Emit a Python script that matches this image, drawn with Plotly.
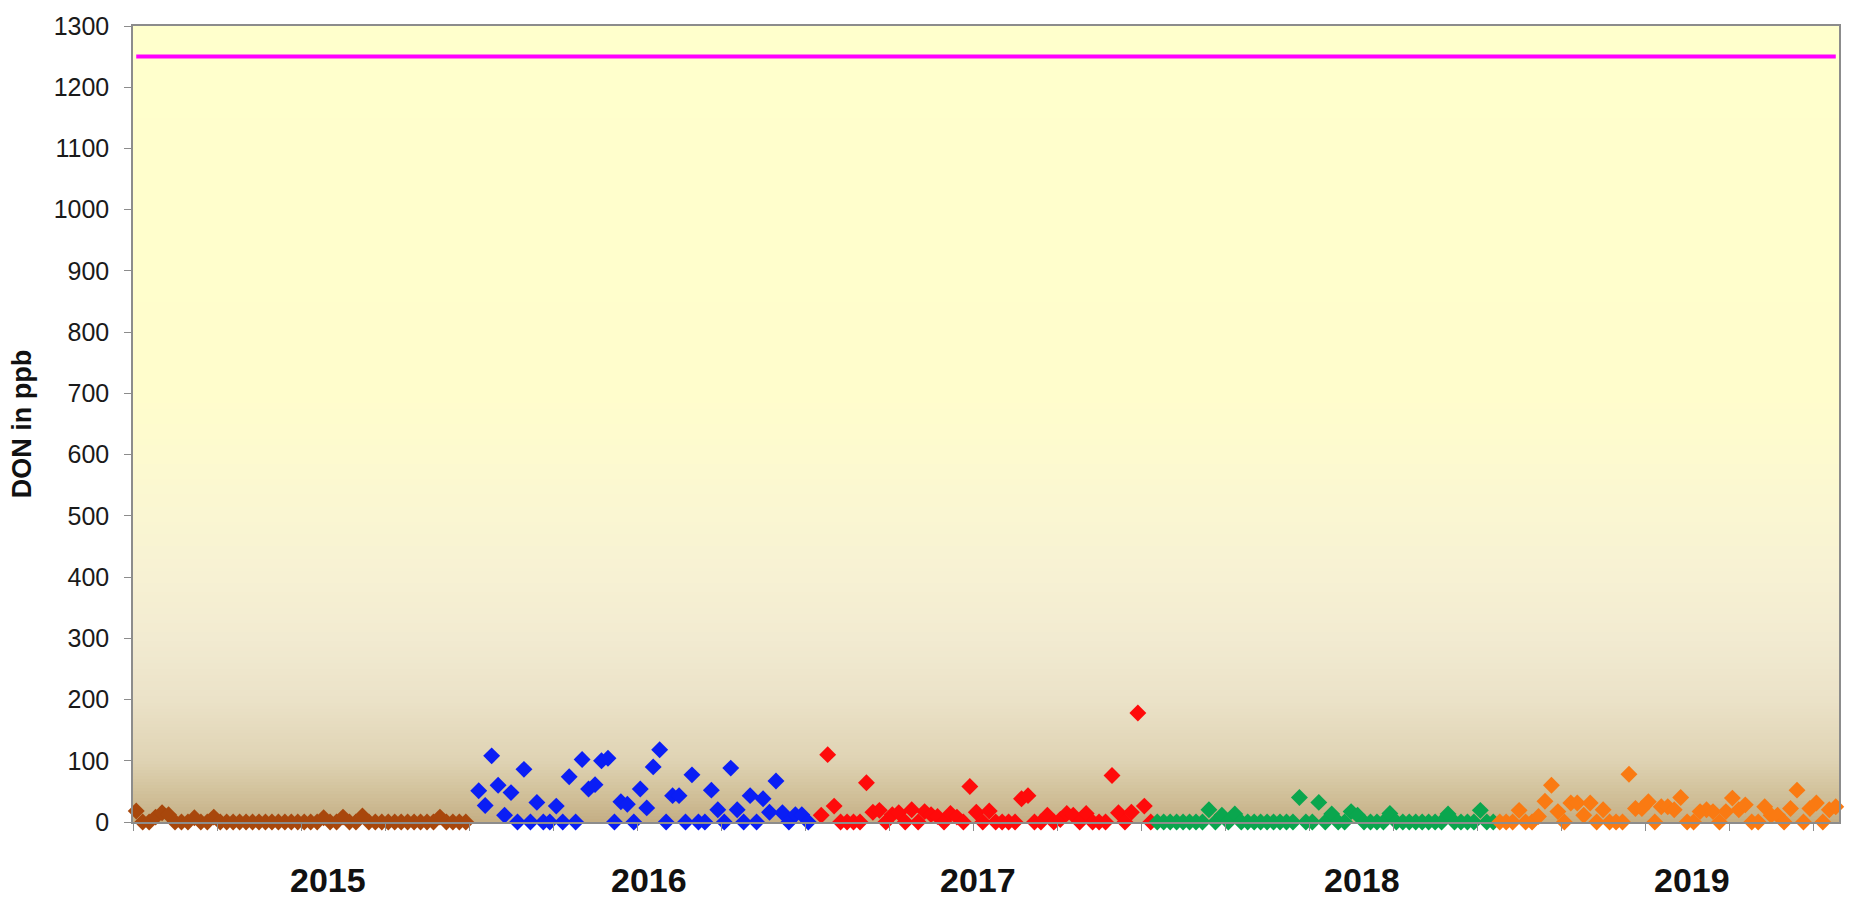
import plotly.graph_objects as go

# ---------------- data ----------------
# category index (weekly samples) -> DON value in ppb
don_2015 = [18, 0, 0, 8, 15, 12, 0, 0, 0, 7, 0, 0, 8, 0, 0, 0, 0, 0, 0, 0,
            0, 0, 0, 0, 0, 0, 0, 0, 0, 7, 0, 0, 8, 0, 0, 10, 0, 0, 0, 0,
            0, 0, 0, 0, 0, 0, 0, 8, 0, 0, 0, 0]
don_2016 = [51, 27, 108, 60, 11, 48, 0, 86, 0, 32, 0, 0, 26, 0, 74, 0, 102, 54, 61, 100,
            104, 0, 33, 29, 0, 54, 23, 90, 118, 0, 43, 43, 0, 77, 0, 0, 52, 20, 0, 88,
            20, 0, 43, 0, 38, 16, 67, 15, 0, 12, 12, 0]
don_2017 = [11, 110, 26, 0, 0, 0, 0, 64, 16, 19, 0, 12, 15, 0, 20, 0, 17, 12, 9, 0,
            14, 8, 0, 58, 16, 0, 18, 0, 0, 0, 0, 38, 43, 0, 0, 11, 0, 4, 14, 11,
            0, 14, 0, 0, 0, 76, 15, 0, 16, 178, 26, 0]
don_2018 = [0, 0, 0, 0, 0, 0, 0, 0, 20, 0, 11, 0, 13, 0, 0, 0, 0, 0, 0, 0,
            0, 0, 40, 0, 0, 32, 0, 13, 0, 0, 17, 11, 0, 0, 0, 0, 14, 0, 0, 0,
            0, 0, 0, 0, 0, 13, 0, 0, 0, 0, 19, 0, 0]
don_2019 = [0, 0, 0, 19, 0, 0, 9, 34, 60, 17, 0, 31, 31, 11, 31, 0, 20, 0, 0, 0,
            78, 22, 22, 33, 0, 25, 25, 20, 40, 0, 0, 17, 20, 17, 0, 17, 39, 20, 28, 0,
            0, 25, 11, 11, 0, 22, 52, 0, 22, 31, 0, 20, 25]

# first category index of each year's series
start_2015 = 1
start_2016 = 54
start_2017 = 107
start_2018 = 159
start_2019 = 212

n_categories = 264
limit_value = 1250

years = ["2015", "2016", "2017", "2018", "2019"]
year_label_pos = [30.6, 80.4, 131.3, 190.7, 241.7]

colors = {
    "2015": "#A8470C",
    "2016": "#0A1EF5",
    "2017": "#FF0A0A",
    "2018": "#0AA64E",
    "2019": "#FA7A12",
}

series = [
    ("2015", start_2015, don_2015),
    ("2016", start_2016, don_2016),
    ("2017", start_2017, don_2017),
    ("2018", start_2018, don_2018),
    ("2019", start_2019, don_2019),
]

# background gradient stops (value in ppb, colour)
bg_stops = [(0, "#C4AE84"), (50, "#D2C29C"), (100, "#DFD3B3"), (200, "#EBE2C8"),
            (300, "#F2EBD1"), (400, "#F7F1D3"), (500, "#FAF6D2"), (600, "#FDFACF"),
            (700, "#FFFDCC"), (1300, "#FFFFCC")]

fig = go.Figure()

# gradient plot background
y_edges = list(range(0, 1301, 5))
z_rows = [[(y_edges[i] + y_edges[i + 1]) / 2] for i in range(len(y_edges) - 1)]
cscale = [[v / 1300, c] for v, c in bg_stops]
fig.add_trace(go.Heatmap(
    x=[0.5, n_categories + 0.5], y=y_edges, z=z_rows,
    colorscale=cscale, zmin=0, zmax=1300, showscale=False,
    hoverinfo="skip",
))

# limit line
fig.add_trace(go.Scatter(
    x=[1, n_categories], y=[limit_value, limit_value], mode="lines",
    line=dict(color="#FF00FF", width=4), hoverinfo="skip", showlegend=False,
))

for name, start, vals in series:
    fig.add_trace(go.Scatter(
        x=list(range(start, start + len(vals))), y=vals, mode="markers",
        marker=dict(symbol="diamond", size=13, color=colors[name], line=dict(width=0)),
        name=name, showlegend=False, cliponaxis=False,
    ))

for label, pos in zip(years, year_label_pos):
    fig.add_annotation(
        x=pos, y=-0.073, xref="x", yref="paper", text="<b>%s</b>" % label,
        showarrow=False, yanchor="middle", xanchor="center",
        font=dict(family="Liberation Sans, Arial", size=34, color="#111111"),
    )

fig.update_layout(
    width=1854, height=898,
    margin=dict(l=133, r=15, t=19, b=76),
    paper_bgcolor="white",
    plot_bgcolor="#FFFFCC",
    showlegend=False,
    font=dict(family="Liberation Sans, Arial", color="#1a1a1a"),
)

fig.update_xaxes(
    range=[0.5, n_categories + 0.5],
    showgrid=False, zeroline=False,
    showticklabels=False,
    ticks="outside", ticklen=7, tickcolor="#8C8C8C", tickwidth=1,
    tick0=0.5, dtick=13,
    showline=True, linecolor="#8C8C8C", linewidth=1.5, mirror=True,
)

fig.update_yaxes(
    range=[0, 1300],
    tickmode="linear", tick0=0, dtick=100,
    showgrid=True, gridcolor="#A29C88", gridwidth=1.5,
    zeroline=False,
    ticks="outside", ticklen=7, tickcolor="#8C8C8C", tickwidth=1,
    ticklabelstandoff=10,
    tickfont=dict(size=25, family="Liberation Sans, Arial", color="#1a1a1a"),
    showline=True, linecolor="#8C8C8C", linewidth=1.5, mirror=True,
    title=dict(text="<b>DON in ppb</b>", standoff=14,
               font=dict(size=27, family="Liberation Sans, Arial", color="#111111")),
)

fig.write_html(
    "out.html",
    config={"displayModeBar": False},
    post_script="document.body.style.margin='0';document.body.style.overflow='hidden';",
)
